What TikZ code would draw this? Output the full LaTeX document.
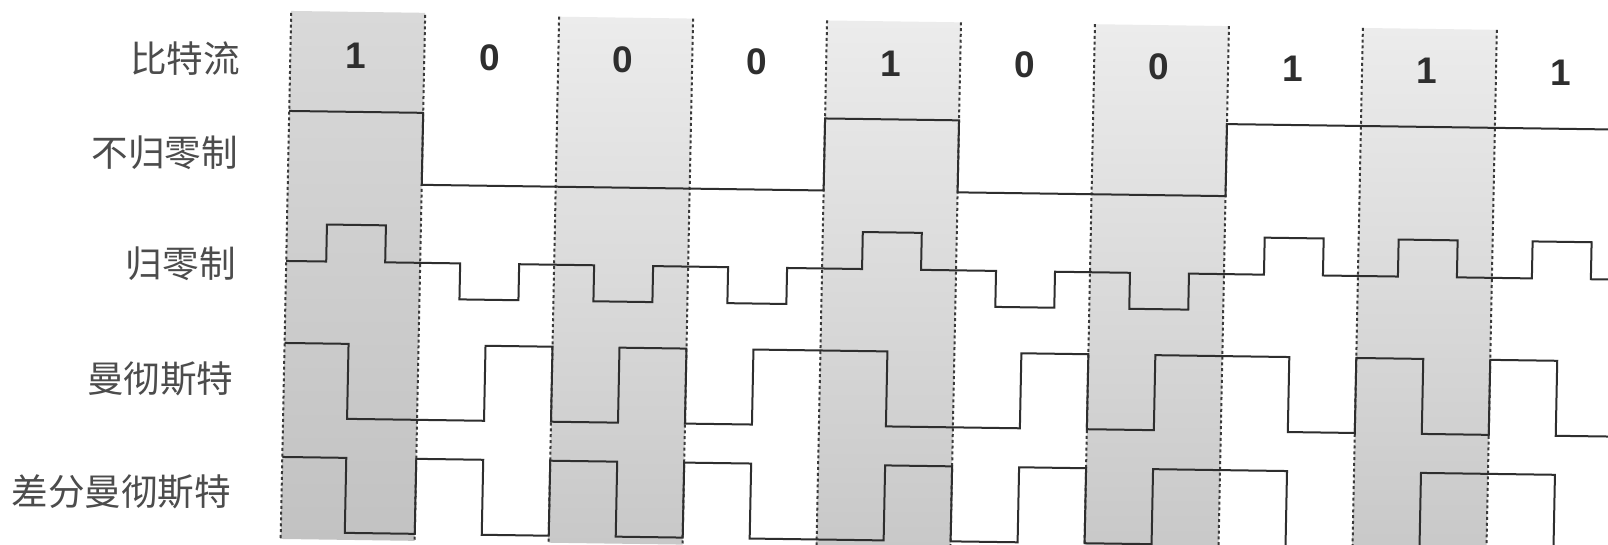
\documentclass[tikz,border=0pt]{standalone}
\usepackage{fontspec}
\newfontfamily\cjkfont{Noto Sans CJK SC}
\newfontfamily\digitfont{Liberation Sans}
\definecolor{sig}{HTML}{2E2E2E}
\definecolor{lbl}{HTML}{4C4C4C}
\definecolor{gridc}{HTML}{3A3A3A}
\definecolor{shAtop}{HTML}{D9D9D9}
\definecolor{shAbot}{HTML}{C2C2C2}
\definecolor{shBtop}{HTML}{ECECEC}
\definecolor{shBbot}{HTML}{C8C8C8}
\begin{document}
\begin{tikzpicture}[x=0.5pt,y=-0.5pt,
  signal/.style={draw=sig, line width=1pt, line join=miter},
  gridline/.style={draw=gridc, line width=1pt, dash pattern=on 1.5pt off 1.4pt},
  rowlabel/.style={anchor=east, inner sep=0pt, text=lbl,
    font=\cjkfont\fontsize{18.3pt}{20pt}\selectfont},
  bitlabel/.style={inner sep=0pt, text=sig,
    font=\digitfont\bfseries\fontsize{18.5pt}{20pt}\selectfont},
  colA/.style={top color=shAtop, bottom color=shAbot, draw=none},
  colB/.style={top color=shBtop, bottom color=shBbot, draw=none}]
\useasboundingbox (0,0) rectangle (1608,545);
\fill[white] (0,0) rectangle (1608,545);
\clip (0,0) rectangle (1608,545);
\begin{scope}[shift={(360,272)}, xslant=0.02, yslant=-0.014, shift={(-360,-272)}]
  % shaded bit columns
  \shade[colA] (286,12) rectangle (420,540);
  \foreach \k in {3,5,7,9}
    \shade[colB] ({286+(\k-1)*134},14) rectangle ({286+\k*134},540);
  % dashed bit boundaries
  \foreach \k in {1,...,10}
    \draw[gridline] ({286+(\k-1)*134},14) -- ({286+(\k-1)*134},540);
  % row labels
  \node[rowlabel] (lbits) at (236,60) {比特流};
  \node[rowlabel] (lnrz)  at (236,154) {不归零制};
  \node[rowlabel] (lrz)   at (236,265) {归零制};
  \node[rowlabel] (lman)  at (236,381) {曼彻斯特};
  \node[rowlabel] (ldman) at (236,494) {差分曼彻斯特};
  % bit values
  \foreach \v [count=\k] in {1,0,0,0,1,0,0,1,1,1}
    \node[bitlabel] (b\k) at ({286+(\k-1)*134+65},56) {\v};
  % NRZ
  \draw[signal] (286,112) -- (420,112) -- (420,184) -- (822,184) -- (822,112)
    -- (956,112) -- (956,184) -- (1224,184) -- (1224,112) -- (1660,112);
  % RZ
  \draw[signal] (286,262)
    -- (326,262) -- (326,225) -- (385,225) -- (385,262)
    -- (460,262) -- (460,298) -- (519,298) -- (519,262)
    -- (594,262) -- (594,298) -- (653,298) -- (653,262)
    -- (728,262) -- (728,298) -- (787,298) -- (787,262)
    -- (862,262) -- (862,225) -- (921,225) -- (921,262)
    -- (996,262) -- (996,298) -- (1055,298) -- (1055,262)
    -- (1130,262) -- (1130,298) -- (1189,298) -- (1189,262)
    -- (1264,262) -- (1264,225) -- (1323,225) -- (1323,262)
    -- (1398,262) -- (1398,225) -- (1457,225) -- (1457,262)
    -- (1532,262) -- (1532,225) -- (1591,225) -- (1591,262)
    -- (1660,262);
  % Manchester
  \draw[signal] (286,344) -- (350,344) -- (350,419) -- (487,419) -- (487,344)
    -- (554,344) -- (554,419) -- (621,419) -- (621,344)
    -- (688,344) -- (688,419) -- (755,419) -- (755,344)
    -- (889,344) -- (889,419) -- (1023,419) -- (1023,344)
    -- (1090,344) -- (1090,419) -- (1157,419) -- (1157,344)
    -- (1291,344) -- (1291,419) -- (1358,419) -- (1358,344)
    -- (1425,344) -- (1425,419) -- (1492,419) -- (1492,344)
    -- (1559,344) -- (1559,419) -- (1660,419);
  % Differential Manchester
  \draw[signal] (286,458) -- (350,458) -- (350,533) -- (420,533) -- (420,458)
    -- (487,458) -- (487,533) -- (554,533) -- (554,458)
    -- (621,458) -- (621,533) -- (688,533) -- (688,458)
    -- (755,458) -- (755,533) -- (889,533) -- (889,458)
    -- (956,458) -- (956,533) -- (1023,533) -- (1023,458)
    -- (1090,458) -- (1090,533) -- (1157,533) -- (1157,458)
    -- (1291,458) -- (1291,533) -- (1425,533) -- (1425,458)
    -- (1559,458) -- (1559,533) -- (1660,533);
\end{scope}
\end{tikzpicture}
\end{document}
